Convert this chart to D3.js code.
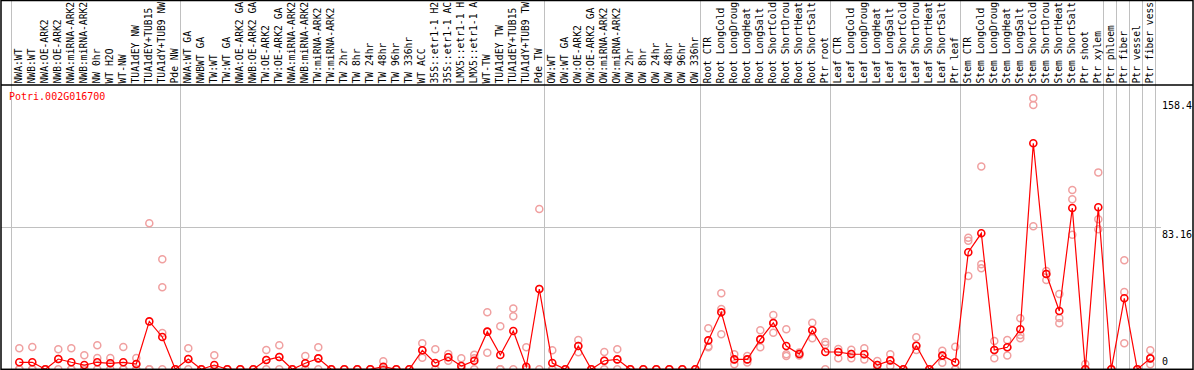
<!DOCTYPE html>
<meta charset="utf-8">
<style>
body { margin: 0; background: #fff; }
svg text { font-family: "DejaVu Sans Mono", monospace; }
.sep { stroke: #c0c0c0; stroke-width: 1px; }
.grid { stroke: #c0c0c0; stroke-width: 1px; }
.frame { fill: none; stroke: #000; stroke-width: 1.5px; }
.line { fill: none; stroke: #ff0000; stroke-width: 1.2px; }
.rep { fill: none; stroke: #f0a0a0; stroke-width: 1.5px; }
.mean { fill: none; stroke: #ff0000; stroke-width: 1.6px; }
</style>
<body>
<script src="https://d3js.org/d3.v7.min.js"></script>
<script>

// sample names, one per column
var labels = [
  "NWA:WT","NWB:WT","NWA:OE-ARK2","NWB:OE-ARK2","NWA:miRNA-ARK2","NWB:miRNA-ARK2","NW 0hr","WT H2O","WT-NW","TUA1dEY NW","TUA1dEY+TUB15","TUA1dY+TUB9 NW","Pde NW",
  "NWA:WT GA","NWBWT GA","TW:WT","TW:WT GA","NWA:OE-ARK2 GA","NWB:OE-ARK2 GA","TW:OE-ARK2","TW:OE-ARK2 GA","NWA:miRNA-ARK2","NWB:miRNA-ARK2","TW:miRNA-ARK2","TW:miRNA-ARK2","TW 2hr","TW 8hr","TW 24hr","TW 48hr","TW 96hr","TW 336hr","WT ACC","35S::etr1-1 H2O","35S::etr1-1 ACC","LMX5::etr1-1 H2O","LMX5::etr1-1 ACC","WT-TW","TUA1dEY TW","TUA1dEY+TUB15","TUA1dY+TUB9 TW","Pde TW",
  "OW:WT","OW:WT GA","OW:OE-ARK2","OW:OE-ARK2 GA","OW:miRNA-ARK2","OW:miRNA-ARK2","OW 2hr","OW 8hr","OW 24hr","OW 48hr","OW 96hr","OW 336hr",
  "Root CTR","Root LongCold","Root LongDrought","Root LongHeat","Root LongSalt","Root ShortCold","Root ShortDrought","Root ShortHeat","Root ShortSalt","Ptr root",
  "Leaf CTR","Leaf LongCold","Leaf LongDrought","Leaf LongHeat","Leaf LongSalt","Leaf ShortCold","Leaf ShortDrought","Leaf ShortHeat","Leaf ShortSalt","Ptr leaf",
  "Stem CTR","Stem LongCold","Stem LongDrought","Stem LongHeat","Stem LongSalt","Stem ShortCold","Stem ShortDrought","Stem ShortHeat","Stem ShortSalt","Ptr shoot","Ptr xylem","Ptr phloem","Ptr fiber","Ptr vessel","Ptr fiber vessel"
];

// mean expression per column
var means = [
  4.1, 4.1, 0, 6.0, 4.1, 2.5, 4.1, 3.5, 4.1, 3.1, 28.0, 18.9, 0,
  6.0, 0, 2.5, 0, 0, 0, 5.4, 7.2, 0, 3.5, 6.4, 0, 0, 0, 0, 1.5, 0, 0, 11.1, 3.7, 7.0, 1.9, 5.0, 22.0, 8.4, 22.4, 1.5, 46.9,
  3.7, 0, 13.6, 0, 5.0, 5.8, 0, 0, 0, 0, 0, 0,
  16.9, 33.3, 5.8, 5.8, 17.5, 27.1, 13.6, 8.9, 22.8, 10.1,
  10.1, 8.9, 8.8, 2.5, 5.2, 0, 13.8, 0, 8.0, 4.1,
  68.4, 79.5, 11.3, 12.9, 23.4, 132.1, 55.7, 34.1, 94.3, 0, 94.7, 0, 41.5, 0, 6.4
];

// individual replicates per column
var replicates = [
  [12.3,0,0],[13.0,0,0],[0,0,0],[11.7,6.0,0],[12.3,0,0],[8.2,0,0],[14.0,6.6,0],[6.6,3.5,0],[13.0,0,0],[6.6,3.1,0],[85.3,0,0],[64.3,47.9,21.2,0],[0,0,0],
  [12.3,6.0,0],[0,0,0],[8.2,0,0],[0,0,0],[0,0,0],[0,0,0],[11.3,5.4,0],[14.0,7.2,0],[0,0,0],[7.8,3.5,0],[12.9,6.4,0],[0,0,0],[0,0,0],[0,0,0],[0,0,0],[4.7,0,0],[0,0,0],[0,0,0],[15.2,11.1,6.8],[11.7,0,0],[8.9,7.0,5.0],[6.4,0,0],[8.5,6.5,0],[33.3,22.0,9.7],[25.1,0,0],[35.6,31.0,0],[12.9,0,0],[93.7,46.9,0],
  [11.1,0,0],[0,0,0],[17.1,13.6,9.9],[0,0,0],[10.1,5.0,0],[11.7,5.8,0],[0,0,0],[0,0,0],[0,0,0],[0,0,0],[0,0,0],[0,0,0],
  [24.0,13.5,12.9],[44.4,35.2,20.5],[8.8,5.8,2.9],[7.8,5.8,4.0],[22.8,17.5,12.9],[31.7,27.1,21.4],[23.4,8.8,7.8],[9.8,8.9,8.0],[27.2,22.8,18.1],[16.0,14.3,0],
  [11.9,10.1,6.4],[11.4,8.9,6.4],[12.3,8.8,5.8],[4.9,2.5,0],[8.8,5.2,1.9],[0,0,0],[18.7,13.8,11.3],[0,0,0],[10.9,8.0,3.9],[13.2,0,0],
  [76.9,75.2,54.5],[118.6,61.4,59.0],[16.5,11.3,6.4],[17.1,12.9,8.0],[29.8,20.0,18.1],[158.4,154.5,83.6],[57.5,55.7,52.2],[44.0,30.0,26.9],[104.8,99.4,78.7],[3.1,0,0],[115.1,87.7,81.8],[0,0,0],[63.7,45.2,15.2],[0,0,0],[11.1,6.4,3.0]
];

// columns that start a new group (last one closes the plot)
var groupStarts = [0, 13, 41, 53, 63, 73, 84, 85, 86, 87, 88];
var yTicks = [158.4, 83.16, 0];
var gene = "Potri.002G016700";

var width = 1194, height = 370;
var headerH = 85, bottom = 369.3;
var maxChars = 14; // header only has room for this many characters

var x = d3.scaleLinear().domain([0, labels.length - 1]).range([19.3, 19.3 + 13 * (labels.length - 1)]);
var y = d3.scaleLinear().domain([0, 158.4]).range([bottom, 98.3]);

var svg = d3.select("body").append("svg")
    .attr("width", width)
    .attr("height", height);

svg.append("rect").attr("width", width).attr("height", height).attr("fill", "#fff");

// group separators
svg.selectAll(".sep")
    .data(groupStarts)
  .enter().append("line")
    .attr("class", "sep")
    .attr("x1", function(d) { return Math.round(x(d) - 8) + 0.5; })
    .attr("x2", function(d) { return Math.round(x(d) - 8) + 0.5; })
    .attr("y1", 0)
    .attr("y2", bottom);

// gridline at the middle value
svg.append("line")
    .attr("class", "grid")
    .attr("x1", 1).attr("x2", 1161)
    .attr("y1", Math.round(y(yTicks[1])) + 0.5)
    .attr("y2", Math.round(y(yTicks[1])) + 0.5);

// header labels
svg.selectAll(".lab")
    .data(labels)
  .enter().append("text")
    .attr("class", "lab")
    .attr("transform", function(d, i) { return "translate(" + (x(i) + 2.6) + "," + (headerH - 1.5) + ") rotate(-90)"; })
    .style("font-size", "9.7px")
    .attr("fill", "#000")
    .text(function(d) { return d.slice(0, maxChars); });

// replicate points
var reps = [];
replicates.forEach(function(r, i) {
  r.forEach(function(v) { reps.push({i: i, v: v}); });
});
svg.selectAll(".rep")
    .data(reps)
  .enter().append("circle")
    .attr("class", "rep")
    .attr("r", 3.5)
    .attr("cx", function(d) { return x(d.i); })
    .attr("cy", function(d) { return y(d.v); });

// mean line
var valueline = d3.line()
    .x(function(d, i) { return x(i); })
    .y(function(d) { return y(d); });
svg.append("path")
    .datum(means)
    .attr("class", "line")
    .attr("d", valueline);

svg.selectAll(".mean")
    .data(means)
  .enter().append("circle")
    .attr("class", "mean")
    .attr("r", 3.5)
    .attr("cx", function(d, i) { return x(i); })
    .attr("cy", function(d) { return y(d); });

// title
svg.append("text")
    .attr("x", 9)
    .attr("y", 100)
    .style("font-size", "10px")
    .attr("fill", "#ff0000")
    .text(gene);

// right side value labels
svg.selectAll(".ytick")
    .data(yTicks)
  .enter().append("text")
    .attr("class", "ytick")
    .attr("x", 1162)
    .attr("y", function(d) { return Math.min(y(d) + 11, bottom - 4.5); })
    .style("font-size", "10px")
    .attr("fill", "#000")
    .text(function(d) { return d; });

// frame
svg.append("line")
    .attr("x1", 1).attr("x2", 1193)
    .attr("y1", headerH).attr("y2", headerH)
    .attr("stroke", "#000").attr("stroke-width", 1.5);
svg.append("rect")
    .attr("class", "frame")
    .attr("x", 1).attr("y", 0.5)
    .attr("width", 1192).attr("height", bottom - 0.5);

</script>
</body>
